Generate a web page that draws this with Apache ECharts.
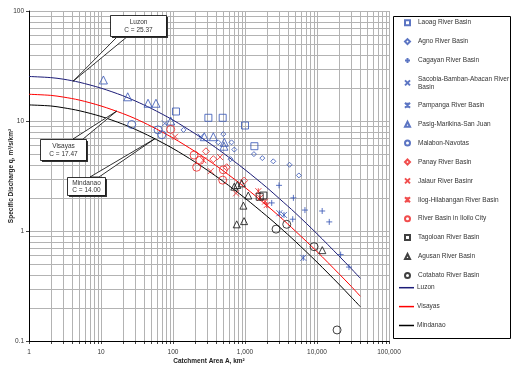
<!DOCTYPE html>
<html>
<head>
<meta charset="utf-8">
<script src="https://cdn.jsdelivr.net/npm/echarts@6/dist/echarts.min.js"></script>
<style>
  html, body { margin: 0; padding: 0; background: #fff; }
  #chart { width: 511px; height: 369px; }
</style>
</head>
<body>
<div id="chart"></div>
<script>
// ---- Envelope curves: specific discharge q (m3/s/km2) against catchment area A (km2)
const curveArea     = [1, 2, 3, 5, 10, 20, 30, 50, 100, 200, 300, 500, 1000, 2000, 3000, 5000, 10000, 20000, 30000, 40000];
const luzonCurve    = [25.4, 24.8, 24.0, 22.5, 19.9, 17.0, 15.2, 13.0, 10.2, 7.71, 6.48, 5.10, 3.61, 2.49, 1.97, 1.46, 0.944, 0.597, 0.454, 0.371];
const visayasCurve  = [17.5, 17.1, 16.5, 15.5, 13.7, 11.7, 10.5, 8.94, 7.01, 5.31, 4.46, 3.52, 2.49, 1.71, 1.36, 1.00, 0.650, 0.411, 0.313, 0.255];
const mindanaoCurve = [14.0, 13.7, 13.2, 12.4, 11.0, 9.38, 8.39, 7.16, 5.62, 4.26, 3.57, 2.82, 1.99, 1.37, 1.09, 0.804, 0.521, 0.330, 0.250, 0.205];

// ---- Observed floods per river basin: [A, q]
const laoag    = [[110, 12.2], [310, 10.7], [490, 10.7], [1000, 9.1], [1350, 5.9]];
const agno     = [[140, 8.3], [425, 6.4], [500, 7.6], [650, 6.4], [710, 5.5], [630, 4.5], [1330, 5.0], [1740, 4.6], [2470, 4.3], [4150, 4.0], [5600, 3.2]];
const cagayan  = [[2350, 1.8], [2970, 2.6], [4600, 1.28], [4700, 2.0], [6800, 1.55], [11800, 1.52], [14800, 1.21], [21300, 0.61], [27800, 0.47]];
const sacobia  = [[77, 9.5], [243, 7.2]];
const pampanga = [[3000, 1.45], [3480, 1.40], [6450, 0.57]];
const pasig    = [[10.8, 23.6], [23.5, 16.6], [45, 14.5], [58, 14.5], [93, 10], [272, 7.2], [363, 7.2], [516, 6.4], [510, 5.9]];
const malabon  = [[26.7, 9.3], [62, 8.3], [70, 7.5]];
const panay    = [[287, 5.3], [363, 4.5], [557, 3.8], [970, 2.87]];
const jalaur   = [[107, 7.2], [264, 4.4], [450, 4.7], [334, 3.5], [750, 2.2]];
const ilog     = [[1530, 2.3], [1620, 2.0], [1900, 1.85], [2000, 1.72]];
const iloilo   = [[93, 8.4], [196, 4.9], [213, 3.8], [237, 4.4], [500, 3.6], [490, 2.9]];
const tagoloan = [[1600, 2.05], [1800, 2.1]];
const agusan   = [[710, 2.53], [782, 2.62], [900, 2.71], [1110, 2.1], [950, 1.7], [767, 1.15], [970, 1.23], [11850, 0.67]];
const cotabato = [[2700, 1.04], [3800, 1.15], [9100, 0.72], [19000, 0.126]];

// ---- Axis tick labels
const xTickLabels = { 1: '1', 10: '10', 100: '100', 1000: '1,000', 10000: '10,000', 100000: '100,000' };
const yTickLabels = { 0.1: '0.1', 1: '1', 10: '10', 100: '100' };

const FONT = '"Liberation Sans", Arial, sans-serif';
const BLUE = '#3352b4', RED = '#ee2020', DARK = '#111111';
const CLEAR = 'rgba(0,0,0,0)';

const SYM = {
  plus:  'path://M5,0L5,10M0,5L10,5',
  cross: 'path://M0,0L10,10M10,0L0,10',
  star:  'path://M0,0L10,10M10,0L0,10M5,0L5,10'
};

function pts(name, data, symbol, size, color) {
  return {
    name, type: 'scatter', data, symbol, symbolSize: size, z: 4,
    itemStyle: { color: CLEAR, borderColor: color, borderWidth: 1 }
  };
}
function curve(name, values, color) {
  return {
    name, type: 'line', data: curveArea.map((a, i) => [a, values[i]]),
    smooth: 0.3, showSymbol: false, symbol: 'none', z: 3,
    lineStyle: { color, width: 1 }, itemStyle: { color }
  };
}

// Logarithmic grid: 1..9 within each decade
const gridX = [], gridY = [];
for (let e = 0; e < 5; e++) for (let m = 1; m <= 9; m++) gridX.push(m * Math.pow(10, e));
gridX.push(100000);
for (let e = -1; e < 2; e++) for (let m = 1; m <= 9; m++) gridY.push(+(m * Math.pow(10, e)).toPrecision(3));
gridY.push(100);

const GRID_COLOR = '#b3b3b3';
const crisp = v => Math.round(v) + 0.5;

const gridSeries = [
  {
    type: 'custom', silent: true, z: 0, clip: false,
    data: gridX.map(v => [v, 1]),
    renderItem(params, api) {
      const v = api.value(0);
      const a = api.coord([v, 100]), b = api.coord([v, 0.1]);
      const x = crisp(a[0]);
      return { type: 'group', children: [
        { type: 'line', shape: { x1: x, y1: a[1], x2: x, y2: b[1] }, style: { stroke: GRID_COLOR, lineWidth: 1 } },
        { type: 'line', shape: { x1: x, y1: b[1], x2: x, y2: b[1] + 3 }, style: { stroke: '#444', lineWidth: 1 } }
      ] };
    }
  },
  {
    type: 'custom', silent: true, z: 0, clip: false,
    data: gridY.map(v => [1, v]),
    renderItem(params, api) {
      const v = api.value(1);
      const a = api.coord([1, v]), b = api.coord([100000, v]);
      const y = crisp(a[1]);
      return { type: 'line', shape: { x1: a[0], y1: y, x2: b[0], y2: y }, style: { stroke: GRID_COLOR, lineWidth: 1 } };
    }
  }
];

const pointSeries = [
  pts('Laoag River Basin', laoag, 'rect', 7, BLUE),
  pts('Agno River Basin', agno, 'diamond', 5, BLUE),
  pts('Cagayan River Basin', cagayan, SYM.plus, 6, BLUE),
  pts('Sacobia-Bamban-Abacan River Basin', sacobia, SYM.cross, 6, BLUE),
  pts('Pampanga River Basin', pampanga, SYM.star, 6, BLUE),
  pts('Pasig-Marikina-San Juan', pasig, 'triangle', 8, BLUE),
  pts('Malabon-Navotas', malabon, 'circle', 8, BLUE),
  pts('Panay River Basin', panay, 'diamond', 7, RED),
  pts('Jalaur River Basinr', jalaur, SYM.cross, 6, RED),
  pts('Ilog-Hilabangan River Basin', ilog, SYM.star, 6, RED),
  pts('River Basin in Iloilo City', iloilo, 'circle', 8, RED),
  pts('Tagoloan River Basin', tagoloan, 'rect', 7, DARK),
  pts('Agusan River Basin', agusan, 'triangle', 7, DARK),
  pts('Cotabato River Basin', cotabato, 'circle', 8, DARK)
];
const curveSeries = [
  curve('Luzon', luzonCurve, '#1c1c78'),
  curve('Visayas', visayasCurve, '#ff0000'),
  curve('Mindanao', mindanaoCurve, '#000000')
];

const legendText = { fontSize: 6.5, color: '#333', fontFamily: FONT, lineHeight: 8, height: 8, padding: [0, 0, 0, 3] };

const chart = echarts.init(document.getElementById('chart'));
chart.setOption({
  animation: false,
  backgroundColor: '#fff',
  textStyle: { fontFamily: FONT },
  grid: { left: 29, right: 122, top: 11, bottom: 28, containLabel: false, outerBoundsMode: 'none' },
  xAxis: {
    type: 'log', logBase: 10, min: 1, max: 100000,
    name: 'Catchment Area A, km\u00b2', nameLocation: 'middle', nameGap: 17, nameMoveOverlap: false,
    nameTextStyle: { fontSize: 6.5, fontWeight: 'bold', color: '#222', fontFamily: FONT },
    axisLine: { lineStyle: { color: '#000', width: 1 } },
    axisTick: { show: false },
    splitLine: { show: false },
    axisLabel: { fontSize: 6.5, color: '#333', margin: 8, fontFamily: FONT,
      formatter: v => xTickLabels[Math.round(v)] || '' }
  },
  yAxis: {
    type: 'log', logBase: 10, min: 0.1, max: 100,
    name: 'Specific Discharge q, m\u00b3/s/km\u00b2', nameLocation: 'middle', nameGap: 14, nameMoveOverlap: false,
    nameTextStyle: { fontSize: 6.5, fontWeight: 'bold', color: '#222', fontFamily: FONT },
    axisLine: { lineStyle: { color: '#000', width: 1 } },
    axisTick: { show: true, length: 3, lineStyle: { color: '#444' } },
    splitLine: { show: false },
    axisLabel: { fontSize: 6.5, color: '#333', margin: 5, fontFamily: FONT,
      formatter: v => yTickLabels[+(+v).toPrecision(3)] || '' }
  },
  legend: [
    {
      orient: 'vertical', left: 404, top: 18.7, padding: 0,
      itemWidth: 5, itemHeight: 5, itemGap: 10.9,
      selectedMode: false, textStyle: legendText,
      formatter: n => n === 'Sacobia-Bamban-Abacan River Basin' ? 'Sacobia-Bamban-Abacan River\nBasin' : n,
      data: pointSeries.map(s => s.name)
    },
    {
      orient: 'vertical', left: 399, top: 283.7, padding: 0,
      itemWidth: 15, itemHeight: 1.5, itemGap: 10.9, icon: 'rect',
      selectedMode: false, textStyle: Object.assign({}, legendText, { padding: [0, 0, 0, -2] }),
      data: curveSeries.map(s => s.name)
    }
  ],
  series: gridSeries.concat(pointSeries, curveSeries)
});

// ---- Legend frame and callout boxes naming each envelope curve
const graphics = [{
  type: 'rect', z: 30, silent: true,
  shape: { x: 393.5, y: 16.5, width: 117, height: 322 },
  style: { fill: 'none', stroke: '#000', lineWidth: 1 }
}];
const callouts = [
  { lines: ['Luzon', 'C = 25.37'],    tip: [4.1, 23.0], box: [110, 15, 56, 21],  base: [118, 128] },
  { lines: ['Visayas', 'C = 17.47'],  tip: [16.5, 12.3], box: [40, 139, 46, 21], base: [73, 83] },
  { lines: ['Mindanao', 'C = 14.00'], tip: [56, 6.9],   box: [67, 177, 38, 18],  base: [90, 99] }
];
callouts.forEach(c => {
  const t = chart.convertToPixel({ gridIndex: 0 }, c.tip);
  const [bx, by, bw, bh] = c.box;
  const edgeY = t[1] < by ? by : by + bh;
  graphics.push({ type: 'polygon', z: 20,
    shape: { points: [[t[0], t[1]], [c.base[0], edgeY], [c.base[1], edgeY]] },
    style: { fill: '#fff', stroke: '#000', lineWidth: 0.8 } });
  graphics.push({ type: 'rect', z: 21, shape: { x: bx + 2, y: by + 2, width: bw, height: bh },
    style: { fill: '#333' } });
  graphics.push({ type: 'rect', z: 22, shape: { x: bx + 0.5, y: by + 0.5, width: bw, height: bh },
    style: { fill: '#fff', stroke: '#000', lineWidth: 0.8 } });
  c.lines.forEach((s, i) => graphics.push({ type: 'text', z: 23,
    style: { text: s, x: bx + bw / 2 + 0.5, y: by + bh * (i === 0 ? 0.3 : 0.72) + 0.5,
      align: 'center', verticalAlign: 'middle', fontSize: 6.5, fill: '#333', fontFamily: FONT } }));
});
chart.setOption({ graphic: graphics });
</script>
</body>
</html>
